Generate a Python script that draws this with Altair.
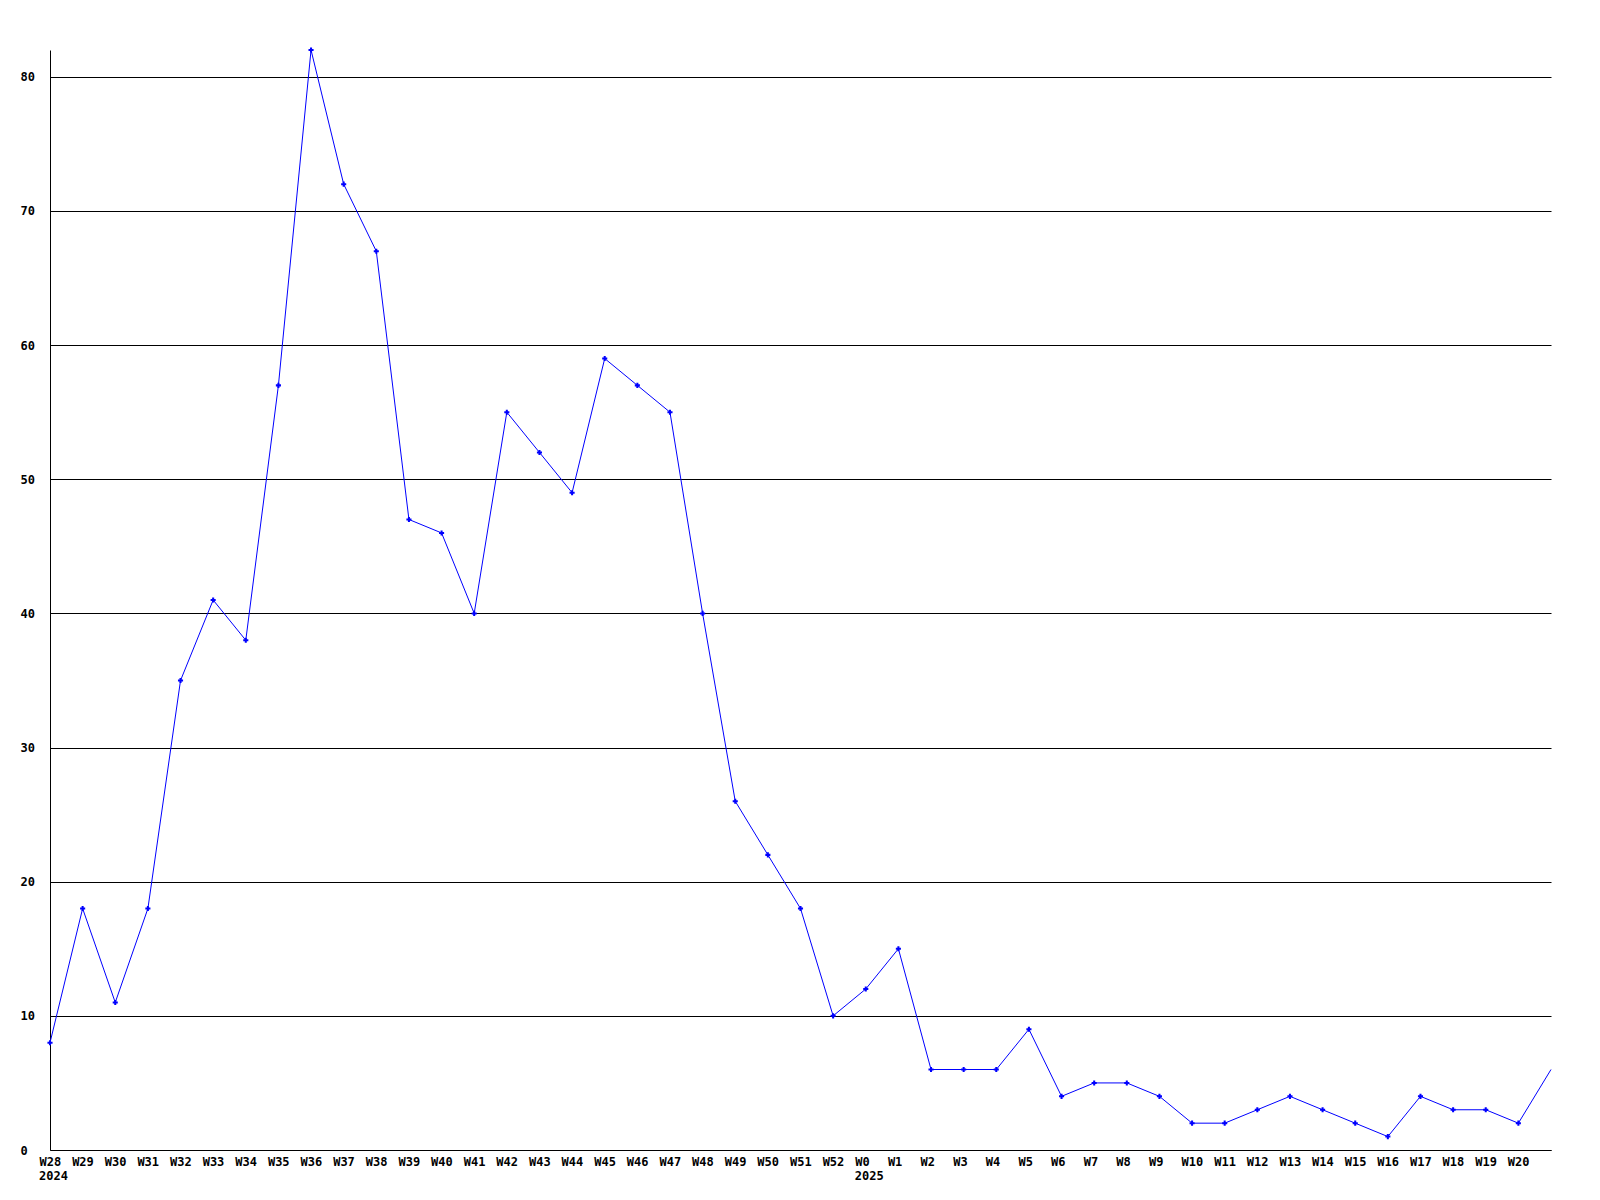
import json
import altair as alt
import pandas as pd

weeks = ["W28", "W29", "W30", "W31", "W32", "W33", "W34", "W35", "W36", "W37",
         "W38", "W39", "W40", "W41", "W42", "W43", "W44", "W45", "W46", "W47",
         "W48", "W49", "W50", "W51", "W52", "W0", "W1", "W2", "W3", "W4", "W5",
         "W6", "W7", "W8", "W9", "W10", "W11", "W12", "W13", "W14", "W15", "W16",
         "W17", "W18", "W19", "W20", "W21"]
counts = [8, 18, 11, 18, 35, 41, 38, 57, 82, 72,
          67, 47, 46, 40, 55, 52, 49, 59, 57, 55,
          40, 26, 22, 18, 10, 12, 15, 6, 6, 6, 9,
          4, 5, 5, 4, 2, 2, 3, 4, 3, 2, 1,
          4, 3, 3, 2, 6]
year_labels = ["2024", "2025"]
year_weeks = ["W28", "W0"]
y_ticks = [0, 10, 20, 30, 40, 50, 60, 70, 80]

df = pd.DataFrame({"idx": list(range(len(weeks))), "week": weeks, "count": counts})
years_df = pd.DataFrame({"idx": [weeks.index(w) for w in year_weeks], "year": year_labels})

FONT = "DejaVu Sans Mono"
FS = 12
labeled = weeks[:-1]
label_expr = json.dumps(labeled) + "[datum.value]"

x_scale = alt.Scale(domain=[0, len(weeks) - 1], nice=False, zero=False)
y_scale = alt.Scale(domain=[0, 82], nice=False)

x_axis = alt.Axis(values=list(range(len(labeled))), labelExpr=label_expr, title=None,
                  grid=False, ticks=False, labelAlign="left", labelOffset=-11,
                  labelBaseline="top", labelPadding=6, labelFont=FONT, labelFontWeight="bold",
                  labelFontSize=FS, labelColor="black", domainColor="black", domainWidth=1,
                  labelOverlap=False, labelFlush=False, labelBound=False)
y_axis = alt.Axis(values=y_ticks, title=None, grid=True, gridColor="black", gridWidth=1,
                  gridOpacity=1, ticks=False, labelAlign="left", labelPadding=30,
                  labelBaseline="middle", labelFont=FONT, labelFontWeight="bold",
                  labelFontSize=FS, labelColor="black", domainColor="black", domainWidth=1,
                  labelOverlap=False, labelFlush=False, labelBound=False)

X = alt.X("idx:Q", scale=x_scale, axis=x_axis)
Y = alt.Y("count:Q", scale=y_scale, axis=y_axis)

base = alt.Chart(df)
line = base.mark_line(color="#0000ff", strokeWidth=1).encode(x=X, y=Y)
points = base.transform_filter(alt.datum.idx < len(weeks) - 1).mark_point(
    shape="cross", filled=True, size=26, color="#0000ff", opacity=1
).encode(x=X, y=Y)

years = alt.Chart(years_df).mark_text(
    align="left", baseline="top", dx=-11, font=FONT, fontWeight="bold", fontSize=FS,
    color="black"
).encode(x=X, y=alt.value(1121), text="year:N")

chart = alt.layer(line, points, years).properties(
    width=1501, height=1100,
    background="white",
    autosize=alt.AutoSizeParams(type="none"),
    padding={"left": 42, "top": 42, "right": 40, "bottom": 40},
).configure_view(strokeWidth=0, stroke="transparent").configure_axis(
    labelOverlap=False
)

chart.save("out.html", embed_options={"renderer": "svg", "actions": False})
